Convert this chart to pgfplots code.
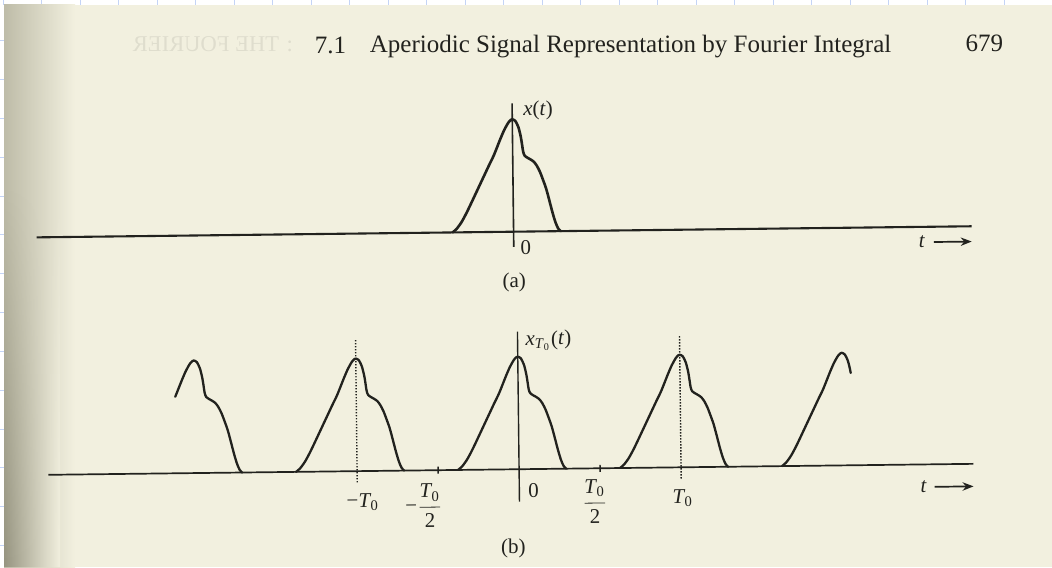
\documentclass[border=0pt]{standalone}
\usepackage{fontspec}
\setmainfont{Liberation Serif}
\usepackage{pgfplots}
\pgfplotsset{compat=1.18}
\usepackage{pgfplotstable}
\usetikzlibrary{arrows.meta,fadings}

\definecolor{paper}{RGB}{242,240,223}
\definecolor{ink}{RGB}{34,34,30}
\definecolor{gutter}{RGB}{190,188,168}
\definecolor{gutterdark}{RGB}{150,148,128}
\definecolor{gridblue}{RGB}{196,212,246}

\newcommand\lbl{\fontsize{10.5}{12}\selectfont}
\newcommand\head{\fontsize{12.5}{14}\selectfont}
\newcommand\Tz{\textit{T}\kern-0.04em\textsubscript{0}}

% one pulse x(t); t in units of T0, peak normalised to 1
\pgfplotstableread{
t       y
-0.377  0
-0.352  0.03
-0.321  0.09
-0.290  0.17
-0.259  0.26
-0.222  0.37
-0.185  0.48
-0.148  0.59
-0.117  0.68
-0.074  0.83
-0.049  0.91
-0.025  0.97
-0.009  0.995
0       1.0
0.019   0.985
0.037   0.93
0.049   0.86
0.054   0.82
0.059   0.77
0.065   0.71
0.074   0.675
0.093   0.655
0.111   0.64
0.130   0.62
0.148   0.585
0.167   0.53
0.185   0.46
0.204   0.38
0.222   0.28
0.241   0.17
0.259   0.08
0.275   0.025
0.290   0
}\pulse

\tikzset{
  pulse/.style={ink, smooth, tension=0.45, line join=round, line cap=round},
  lab/.style={font=\lbl, text=ink, inner sep=0pt},
  guide/.style={ink, line width=0.7pt, dash pattern=on 0.7pt off 0.8pt},
}

\begin{document}
\begin{tikzpicture}
\useasboundingbox (0,0) rectangle (526pt,283.5pt);

% the scanned page
\begin{scope}[x=0.5pt,y=-0.5pt,yshift=283.5pt]
  \fill[white] (0,0) rectangle (1052,567);
  \foreach \k in {0,...,26} \draw[gridblue, line width=0.5pt] ({3.2+38.5*\k},0) -- ++(0,5);
  \foreach \k in {0,...,13} \draw[gridblue, line width=0.5pt] (0,{41+38.8*\k}) -- ++(4,0);
  \fill[paper] (4,5) rectangle (1052,567);
  \shade[left color=gutter, right color=paper] (4,5) rectangle (75,567);
  \shade[left color=gutterdark, right color=paper, path fading=north] (4,180) rectangle (60,567);
  \node[anchor=base west, xscale=-1, font=\fontsize{11.3}{12}\selectfont, text=black, opacity=0.08]
    at (300,52) {: THE FOURIER};
\end{scope}

\begin{scope}[rotate around={0.68:(257.5pt,108.5pt)}]
  % running head
  \node[anchor=base west, font=\head, text=ink, inner sep=0pt] at (159pt,258pt) {7.1};
  \node[anchor=base west, font=\head, text=ink, inner sep=0pt] at (186.5pt,258pt)
    {Aperiodic Signal Representation by Fourier Integral};
  \node[anchor=base east, font=\head, text=ink, inner sep=0pt] at (503.5pt,255pt) {679};

  % (a) the aperiodic signal
  \begin{axis}[
    at={(19.03pt,160.12pt)}, anchor=south west, scale only axis,
    width=467.45pt, height=71.71pt,
    xmin=-2.944, xmax=2.827, ymin=-0.134, ymax=1.142,
    enlargelimits=false, clip=false,
    axis lines=middle,
    x axis line style={-, ink, line width=1.05pt},
    y axis line style={-, ink, line width=0.8pt},
    xtick=\empty, ytick=\empty,
  ]
    \addplot[pulse, line width=1.3pt] table[x=t, y=y]{\pulse};
    \node[lab] at (axis cs:0.160,1.074) {\textit{x}(\textit{t})};
    \node[lab] at (axis cs:0.074,-0.145) {0};
    \node[lab] at (axis cs:2.519,-0.136) {\textit{t}};
    \draw[ink, line width=0.85pt, -{Stealth[length=5.5pt,width=4.2pt]}]
      (axis cs:2.593,-0.136) -- (axis cs:2.827,-0.136);
  \end{axis}
  \node[font=\fontsize{10.5}{12}\selectfont, text=ink] at (257.5pt,142.5pt) {(a)};

  % (b) its periodic extension with period T0
  \begin{axis}[
    at={(23.45pt,32.65pt)}, anchor=south west, scale only axis,
    width=462.5pt, height=85pt,
    xmin=-2.906, xmax=2.804, ymin=-0.288, ymax=1.222,
    enlargelimits=false, clip=false,
    axis lines=middle,
    x axis line style={-, ink, line width=0.85pt},
    y axis line style={-, ink, line width=0.7pt},
    xtick={-0.5,0.5}, xticklabels={}, ytick=\empty,
    major tick length=3.5pt, tick align=center,
    tick style={ink, line width=0.7pt},
  ]
    \addplot[pulse, line width=1.15pt, restrict x to domain=-2.12:-1.5]
      table[x expr=\thisrow{t}-2, y=y]{\pulse};
    \addplot[pulse, line width=1.15pt] table[x expr=\thisrow{t}-1, y=y]{\pulse};
    \addplot[pulse, line width=1.15pt] table[x=t, y=y]{\pulse};
    \addplot[pulse, line width=1.15pt] table[x expr=\thisrow{t}+1, y=y]{\pulse};
    \addplot[pulse, line width=1.15pt, restrict x to domain=1.5:2.055]
      table[x expr=\thisrow{t}+2, y=y]{\pulse};
    % dotted guides at the peaks t = -T0 and t = T0
    \addplot[guide] coordinates {(-1,-0.10) (-1,1.17)};
    \addplot[guide] coordinates {(1,-0.10) (1,1.17)};
    \node[lab] at (axis cs:0.190,1.14) {\textit{x}\textsubscript{\textit{T}\textsubscript{0}}(\textit{t})};
    \node[lab] at (axis cs:0.088,-0.193) {0};
    \node[lab] at (axis cs:1.008,-0.273) {\Tz};
    \node[lab] at (axis cs:-0.967,-0.273) {−\Tz};
    \node[lab] at (axis cs:0.465,-0.297) {$\displaystyle\frac{\mbox{\Tz}}{\mbox{2}}$};
    \node[lab] at (axis cs:-0.590,-0.316) {−$\displaystyle\frac{\mbox{\Tz}}{\mbox{2}}$};
    \node[lab] at (axis cs:2.496,-0.200) {\textit{t}};
    \draw[ink, line width=0.85pt, -{Stealth[length=5.5pt,width=4.2pt]}]
      (axis cs:2.564,-0.200) -- (axis cs:2.804,-0.200);
  \end{axis}
  \node[font=\fontsize{10.5}{12}\selectfont, text=ink] at (255.5pt,9.5pt) {(b)};
\end{scope}
\end{tikzpicture}
\end{document}
